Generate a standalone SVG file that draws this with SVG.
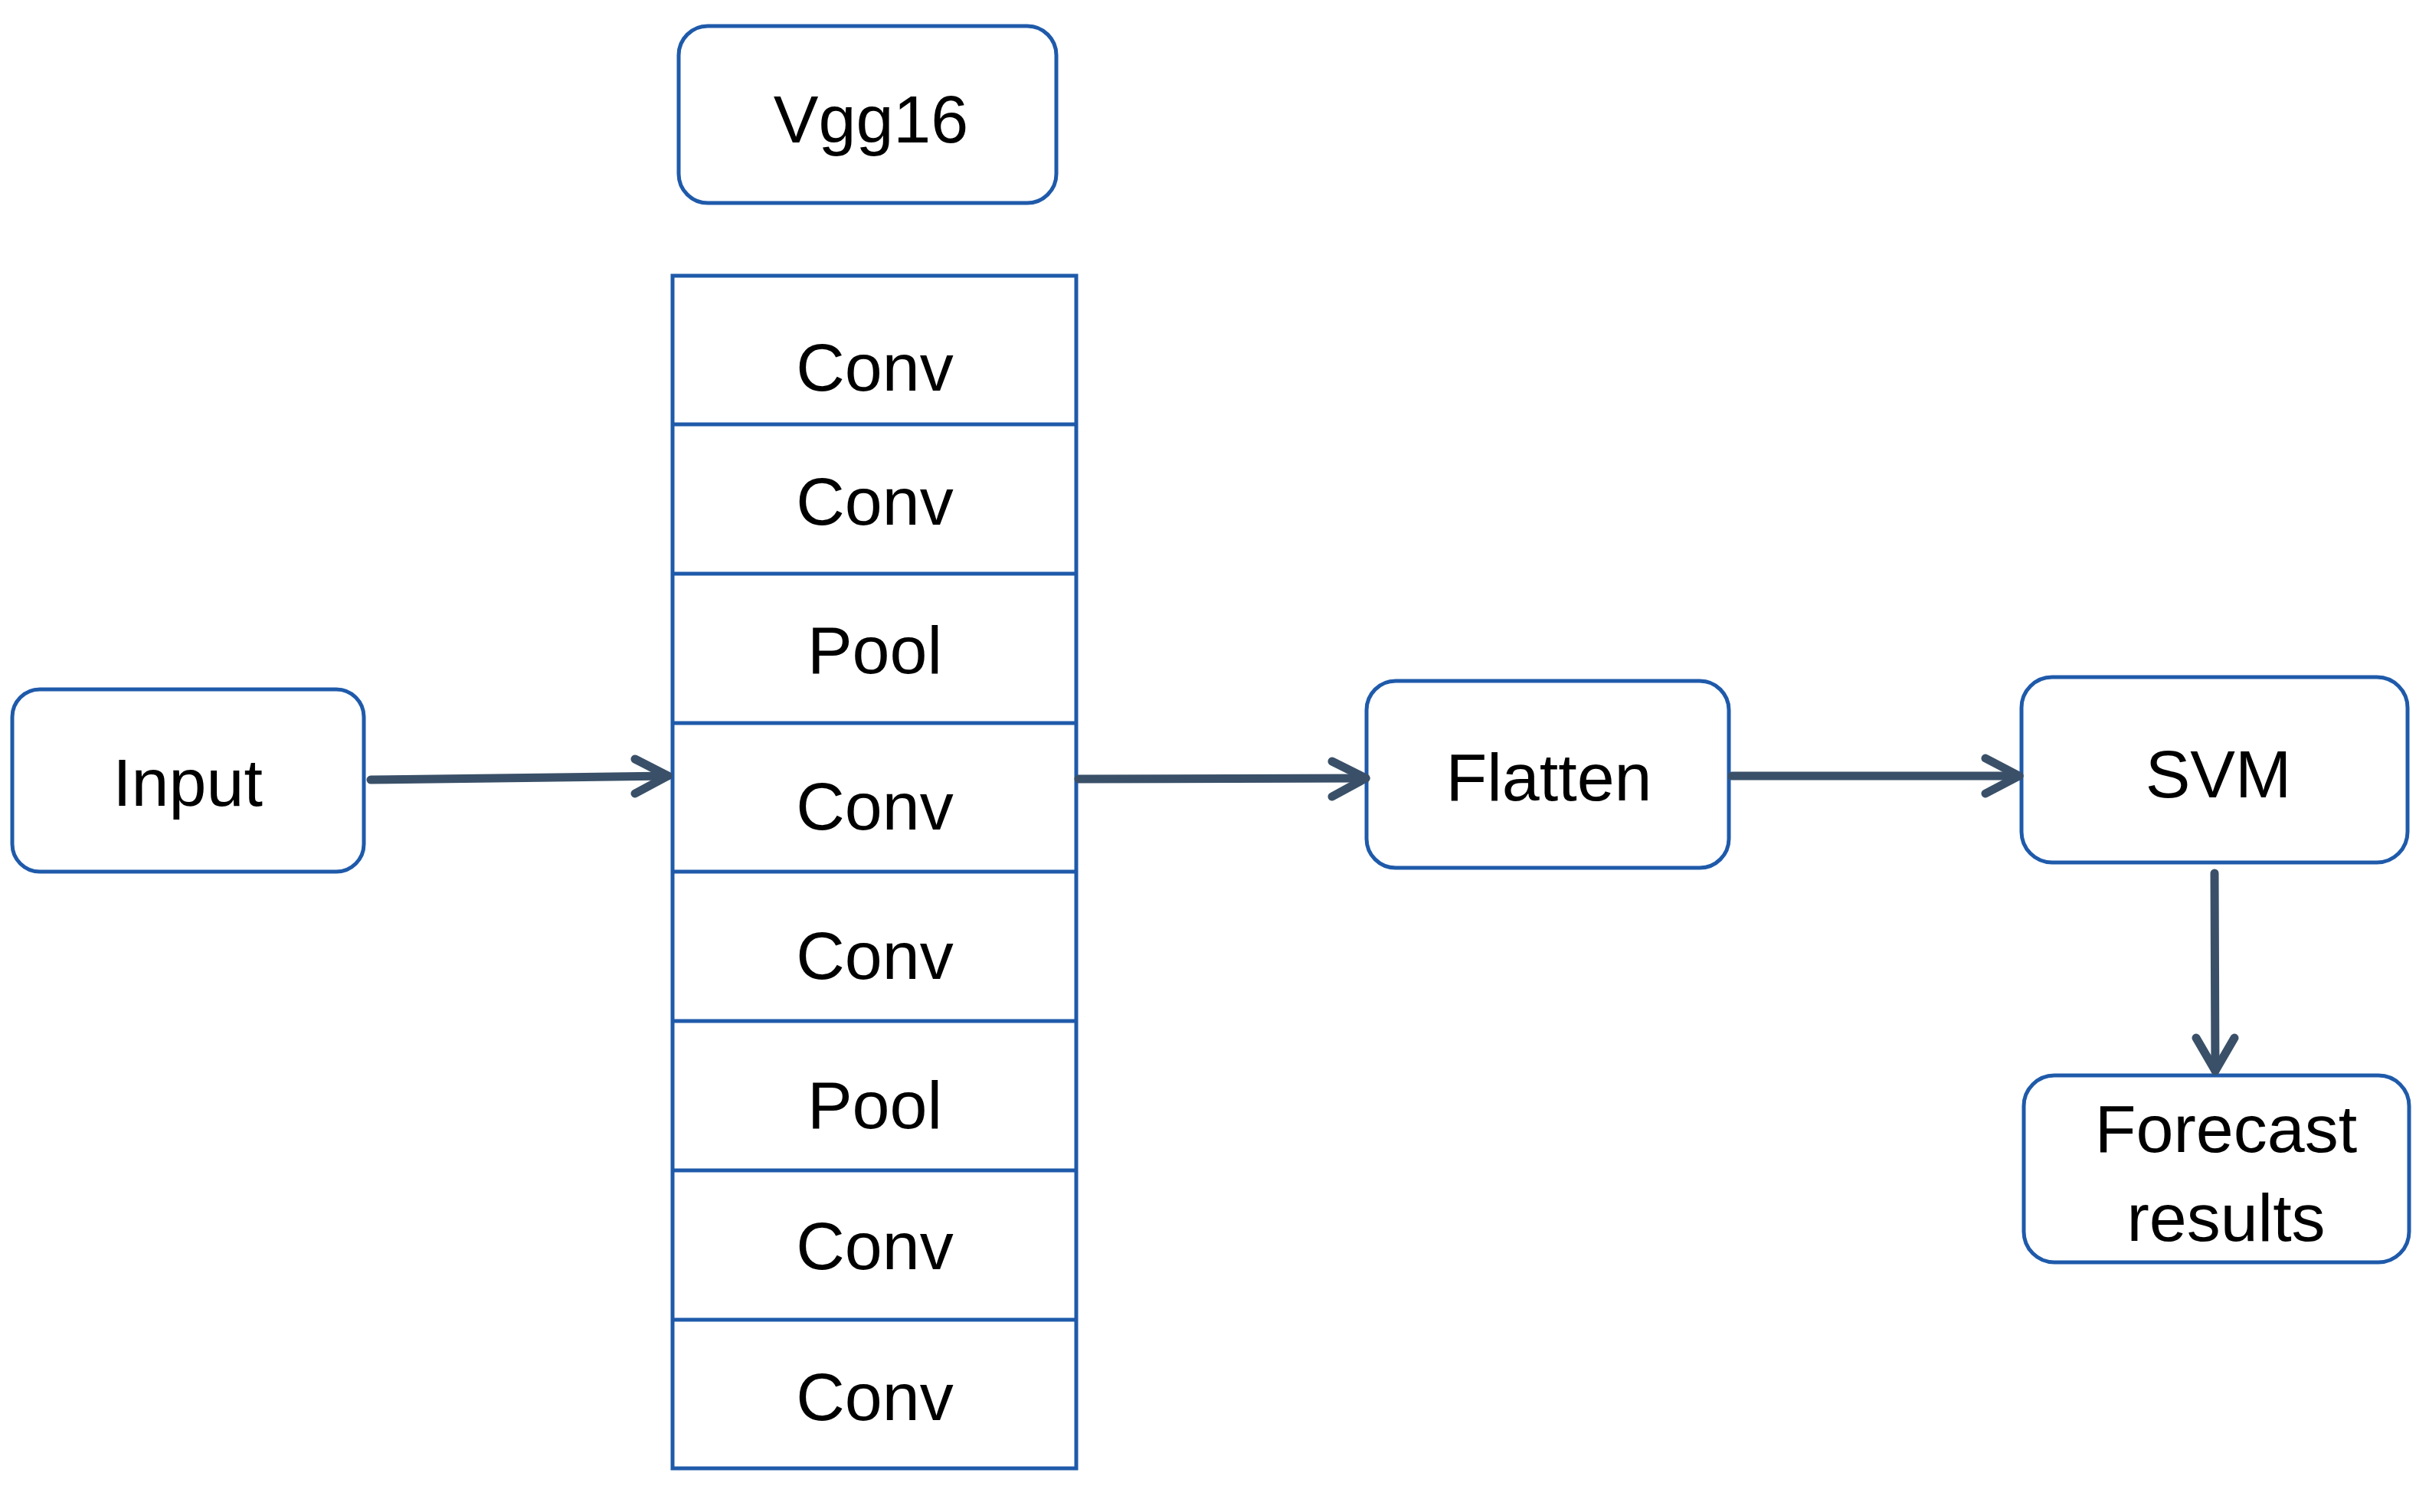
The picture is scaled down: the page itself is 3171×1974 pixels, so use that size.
<svg xmlns="http://www.w3.org/2000/svg" width="3171" height="1974" viewBox="0 0 3171 1974">
<style>
.box{fill:#ffffff;stroke:#1F5AAA;stroke-width:5}
.cell{fill:#ffffff;stroke:#1F5AAA;stroke-width:5}
.lbl{font-family:"Liberation Sans",Arial,sans-serif;font-size:88px;fill:#000000;text-anchor:middle}
.conn{fill:none;stroke:#3A5068;stroke-width:11;stroke-linecap:round;stroke-linejoin:round}
</style>
<rect width="3171" height="1974" fill="#ffffff"/>
<g id="vgg16">
<rect class="box" x="886" y="34" width="493" height="231" rx="38" ry="38"/>
<text class="lbl" x="1137" y="186">Vgg16</text>
</g>
<g id="stack">
<rect class="cell" x="878" y="360" width="527" height="1557"/>
<line class="cell" x1="878" y1="554" x2="1405" y2="554"/>
<line class="cell" x1="878" y1="749" x2="1405" y2="749"/>
<line class="cell" x1="878" y1="944" x2="1405" y2="944"/>
<line class="cell" x1="878" y1="1138" x2="1405" y2="1138"/>
<line class="cell" x1="878" y1="1333" x2="1405" y2="1333"/>
<line class="cell" x1="878" y1="1528" x2="1405" y2="1528"/>
<line class="cell" x1="878" y1="1723" x2="1405" y2="1723"/>
<text class="lbl" x="1142" y="510">Conv</text>
<text class="lbl" x="1142" y="685">Conv</text>
<text class="lbl" x="1142" y="879">Pool</text>
<text class="lbl" x="1142" y="1083">Conv</text>
<text class="lbl" x="1142" y="1278">Conv</text>
<text class="lbl" x="1142" y="1473">Pool</text>
<text class="lbl" x="1142" y="1657">Conv</text>
<text class="lbl" x="1142" y="1854">Conv</text>
</g>
<g id="input">
<rect class="box" x="16" y="900" width="459" height="238" rx="36" ry="36"/>
<text class="lbl" x="245" y="1052">Input</text>
</g>
<g id="flatten">
<rect class="box" x="1784" y="889" width="473" height="244" rx="38" ry="38"/>
<text class="lbl" x="2022" y="1045">Flatten</text>
</g>
<g id="svm">
<rect class="box" x="2639" y="884" width="504" height="242" rx="40" ry="40"/>
<text class="lbl" x="2896" y="1041">SVM</text>
</g>
<g id="forecast">
<rect class="box" x="2642" y="1404" width="503" height="244" rx="40" ry="40"/>
<text class="lbl" x="2906" y="1504">Forecast</text>
<text class="lbl" x="2906" y="1620">results</text>
</g>
<g id="connectors">
<path class="conn" d="M484 1018 L872 1013"/>
<path class="conn" d="M829 991 L872 1013 L829 1036"/>
<path class="conn" d="M1408 1017 L1783 1016"/>
<path class="conn" d="M1739 994 L1783 1016 L1739 1040"/>
<path class="conn" d="M2261 1013 L2636 1013"/>
<path class="conn" d="M2592 990 L2636 1013 L2592 1036"/>
<path class="conn" d="M2891 1140 L2892 1398"/>
<path class="conn" d="M2867 1355 L2892 1398 L2917 1355"/>
</g>
</svg>
